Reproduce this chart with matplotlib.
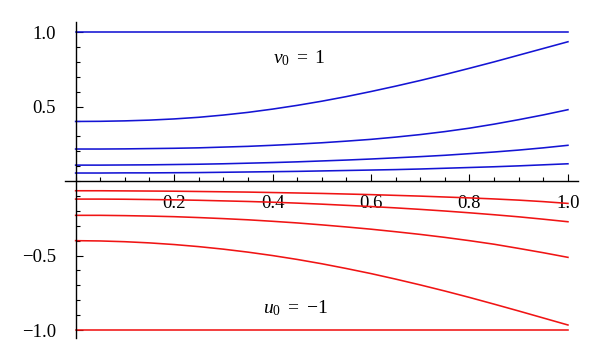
import matplotlib
matplotlib.use("Agg")
import matplotlib.pyplot as plt
from matplotlib.ticker import MultipleLocator, FixedLocator

plt.rcParams['font.family'] = ['Liberation Serif', 'DejaVu Serif']
plt.rcParams['mathtext.fontset'] = 'custom'
plt.rcParams['mathtext.rm'] = 'Liberation Serif'
plt.rcParams['mathtext.it'] = 'Liberation Serif:italic'

x = [0.0, 0.05, 0.1, 0.15, 0.2, 0.25, 0.3, 0.35, 0.4, 0.45, 0.5,
     0.55, 0.6, 0.65, 0.7, 0.75, 0.8, 0.85, 0.9, 0.95, 1.0]

# v curves (blue)
v_top = [1.0] * 21
v_1 = [0.400, 0.401, 0.404, 0.409, 0.417, 0.428, 0.443, 0.461, 0.483, 0.508, 0.536,
       0.567, 0.601, 0.637, 0.675, 0.715, 0.757, 0.800, 0.845, 0.890, 0.935]
v_2 = [0.215, 0.215, 0.216, 0.218, 0.220, 0.223, 0.228, 0.233, 0.240, 0.248, 0.257,
       0.268, 0.280, 0.295, 0.312, 0.332, 0.355, 0.382, 0.412, 0.444, 0.479]
v_3 = [0.107, 0.107, 0.108, 0.109, 0.111, 0.113, 0.116, 0.120, 0.124, 0.129, 0.135,
       0.141, 0.148, 0.156, 0.164, 0.173, 0.184, 0.195, 0.208, 0.223, 0.240]
v_4 = [0.054, 0.054, 0.055, 0.055, 0.056, 0.057, 0.059, 0.061, 0.063, 0.065, 0.068,
       0.071, 0.074, 0.077, 0.081, 0.086, 0.091, 0.096, 0.102, 0.109, 0.116]

# u curves (red)
u_bot = [-1.0] * 21
u_1 = [-0.400, -0.402, -0.407, -0.415, -0.426, -0.440, -0.457, -0.477, -0.500, -0.526, -0.555,
       -0.587, -0.621, -0.658, -0.697, -0.738, -0.781, -0.826, -0.872, -0.919, -0.966]
u_2 = [-0.230, -0.230, -0.232, -0.235, -0.239, -0.245, -0.252, -0.260, -0.270, -0.281, -0.294,
       -0.308, -0.323, -0.340, -0.358, -0.378, -0.400, -0.424, -0.452, -0.481, -0.512]
u_3 = [-0.121, -0.121, -0.122, -0.124, -0.126, -0.129, -0.133, -0.137, -0.142, -0.148, -0.155,
       -0.163, -0.171, -0.180, -0.190, -0.201, -0.213, -0.226, -0.240, -0.256, -0.273]
u_4 = [-0.065, -0.065, -0.066, -0.067, -0.068, -0.070, -0.072, -0.074, -0.077, -0.080, -0.083,
       -0.087, -0.091, -0.096, -0.101, -0.107, -0.113, -0.120, -0.128, -0.138, -0.150]

xticks = [0.2, 0.4, 0.6, 0.8, 1.0]
yticks = [-1.0, -0.5, 0.5, 1.0]

fig = plt.figure(figsize=(6, 3.62), dpi=100)
ax = fig.add_axes([0.108, 0.066, 0.855, 0.873])

for v in [v_top, v_1, v_2, v_3, v_4]:
    ax.plot(x, v, color='#1414d4', lw=1.15)
for u in [u_bot, u_1, u_2, u_3, u_4]:
    ax.plot(x, u, color='#f01414', lw=1.15)

ax.set_xlim(-0.022, 1.02)
ax.set_ylim(-1.054, 1.067)

ax.spines['left'].set_position(('data', 0))
ax.spines['bottom'].set_position(('data', 0))
ax.spines['top'].set_visible(False)
ax.spines['right'].set_visible(False)
for s in ['left', 'bottom']:
    ax.spines[s].set_linewidth(1.0)

ax.xaxis.set_major_locator(FixedLocator(xticks))
ax.xaxis.set_minor_locator(MultipleLocator(0.05))
ax.yaxis.set_major_locator(FixedLocator(yticks))
ax.yaxis.set_minor_locator(MultipleLocator(0.1))
ax.set_xticklabels(['%.1f' % t for t in xticks])
ax.set_yticklabels(['\u2212%.1f' % -t if t < 0 else '%.1f' % t for t in yticks])

ax.tick_params(axis='x', which='major', direction='in', length=5, width=0.8, pad=10, labelsize=13.5)
ax.tick_params(axis='x', which='minor', direction='in', length=3, width=0.8)
ax.tick_params(axis='y', which='major', direction='in', length=5, width=0.8, pad=14, labelsize=13.5)
ax.tick_params(axis='y', which='minor', direction='in', length=3, width=0.8)

ax.text(0.455, 0.826, r'$v_0\ =\ \mathrm{1}$', fontsize=14, ha='center', va='center')
ax.text(0.447, -0.852, r'$u_0\ =\ {-}\mathrm{1}$', fontsize=14, ha='center', va='center')

fig.savefig('out.png', dpi=100)
